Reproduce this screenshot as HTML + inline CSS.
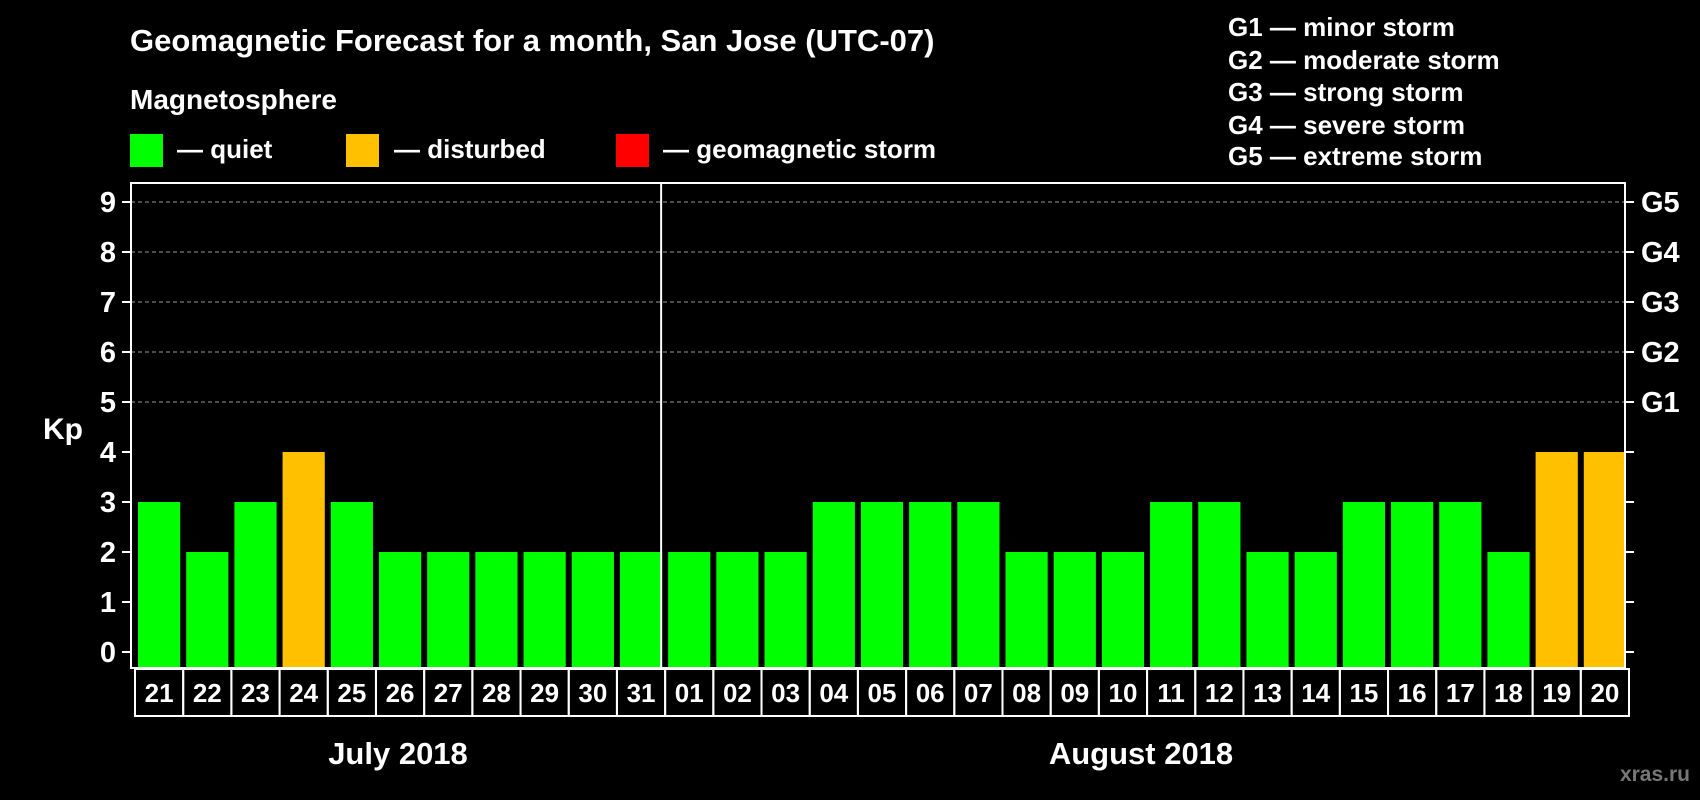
<!DOCTYPE html>
<html><head><meta charset="utf-8"><style>
html,body{margin:0;padding:0;background:#000;}
svg{display:block;font-family:"Liberation Sans",Arial,sans-serif;font-weight:bold;}
</style></head><body>
<svg id="chart" width="1700" height="800" viewBox="0 0 1700 800">
<rect x="0" y="0" width="1700" height="800" fill="#000"/>
<text x="130" y="51" fill="#fff" font-size="31">Geomagnetic Forecast for a month, San Jose (UTC-07)</text>
<text x="130" y="109" fill="#fff" font-size="28">Magnetosphere</text>
<g><rect x="130" y="134" width="33" height="33" fill="#00ff00"/><text x="177" y="158" fill="#fff" font-size="26">— quiet</text></g>
<g><rect x="346" y="134" width="33" height="33" fill="#ffc000"/><text x="394" y="158" fill="#fff" font-size="26">— disturbed</text></g>
<g><rect x="616" y="134" width="33" height="33" fill="#ff0000"/><text x="663" y="158" fill="#fff" font-size="26">— geomagnetic storm</text></g>
<g fill="#fff" font-size="26">
<text x="1228" y="36">G1 — minor storm</text>
<text x="1228" y="69">G2 — moderate storm</text>
<text x="1228" y="101">G3 — strong storm</text>
<text x="1228" y="134">G4 — severe storm</text>
<text x="1228" y="165">G5 — extreme storm</text>
</g>
<text x="63" y="439" fill="#fff" font-size="30" text-anchor="middle">Kp</text>
<g id="plot"></g>
<text x="398" y="764" fill="#fff" font-size="31" text-anchor="middle">July 2018</text>
<text x="1141" y="764" fill="#fff" font-size="31" text-anchor="middle">August 2018</text>
<text x="1690" y="781" fill="#777" font-size="21" text-anchor="end">xras.ru</text>
</svg>
<script>
const days=["21","22","23","24","25","26","27","28","29","30","31","01","02","03","04","05","06","07","08","09","10","11","12","13","14","15","16","17","18","19","20"];
const kp=[3,2,3,4,3,2,2,2,2,2,2,2,2,2,3,3,3,3,2,2,2,3,3,2,2,3,3,3,2,4,4];
const yTicks=[0,1,2,3,4,5,6,7,8,9];
const gLabels=["G1","G2","G3","G4","G5"];
const gLevels=[5,6,7,8,9];
const monthSplit=11;
const NS="http://www.w3.org/2000/svg";
const L=131,R=1625,T=183,B=668,Y0=652,Y9=202;
const y=v=>Y0+(Y9-Y0)*v/9;
const slot=(R-L)/days.length;
const x=i=>L+i*slot;
const g=document.getElementById('plot');
function mk(t,a){const e=document.createElementNS(NS,t);for(const k in a)e.setAttribute(k,a[k]);g.appendChild(e);return e;}
yTicks.forEach(v=>{
  if(v>=5){const gl=mk('line',{x1:L,x2:R,y1:y(v),y2:y(v),stroke:'#999','stroke-width':1,'stroke-dasharray':'4,3'});
  
  }
  const t1=mk('line',{x1:L-9,x2:L,y1:y(v),y2:y(v),stroke:'#fff','stroke-width':2});
  
  
  const t2=mk('line',{x1:R,x2:R+9,y1:y(v),y2:y(v),stroke:'#fff','stroke-width':2});
  
  
  const tl=mk('text',{x:116,y:y(v)+10,fill:'#fff','font-size':29,'text-anchor':'end'});
  tl.textContent=v;
  
  
});
gLabels.forEach((s,i)=>{
  const t=mk('text',{x:1641,y:y(gLevels[i])+10,fill:'#fff','font-size':29});
  t.textContent=s;
  
  
});
kp.forEach((v,i)=>{
  const r=mk('rect',{x:x(i)+7,y:y(v),width:slot-6,height:B-y(v),fill:v>=5?'#ff0000':(v>=4?'#ffc000':'#00ff00')});
  
  
  const b=mk('rect',{x:x(i)+4,y:669,width:slot,height:47,fill:'none',stroke:'#fff','stroke-width':2});
  
  
  const t=mk('text',{x:x(i)+4+slot/2,y:702,fill:'#fff','font-size':26,'text-anchor':'middle'});
  t.textContent=days[i];
  
  
});
const sep=mk('line',{x1:x(monthSplit),x2:x(monthSplit),y1:T,y2:B,stroke:'#fff','stroke-width':2});


const fr=mk('rect',{x:L,y:T,width:R-L,height:B-T,fill:'none',stroke:'#fff','stroke-width':2});


</script>
</body></html>
